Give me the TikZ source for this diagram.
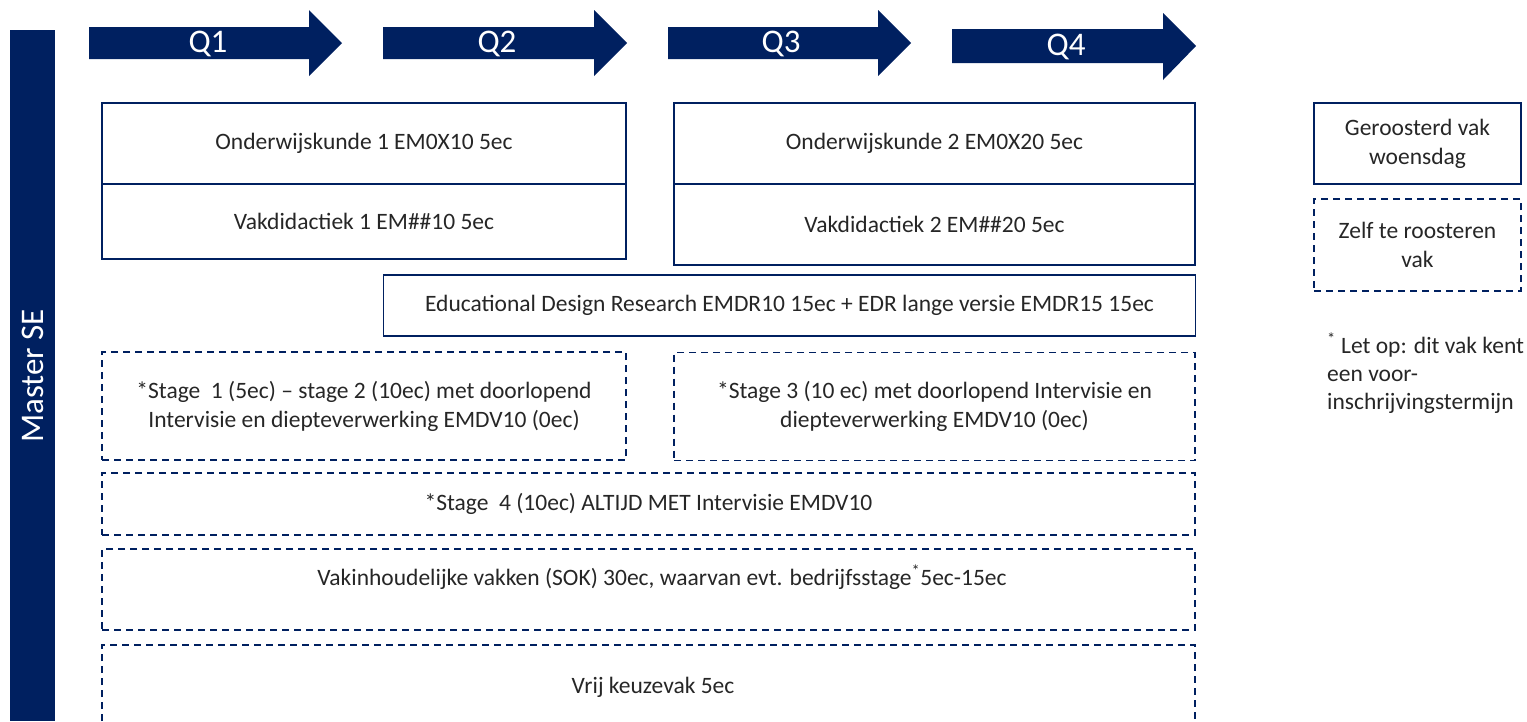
\documentclass[tikz,border=0pt]{standalone}
\usepackage{fontspec}
\setmainfont{Carlito}
\definecolor{navy}{RGB}{0,32,96}
\definecolor{txt}{RGB}{38,38,38}
\begin{document}
\begin{tikzpicture}[x=1pt,y=-1pt,
  solidbox/.style={draw=navy,line width=1.8pt,inner sep=0pt,align=center,text=txt,font=\fontsize{23.5}{29}\selectfont},
  dashbox/.style={solidbox,dash pattern=on 7pt off 5pt},
  lbl/.style={inner sep=0pt,text=txt,font=\fontsize{23.5}{29}\selectfont},
  qtext/.style={inner sep=0pt,text=white,font=\fontsize{33}{36}\selectfont},
  qarrow/.style={fill=navy,draw=none}]
\useasboundingbox (0,0) rectangle (1527,721);
% Master SE bar
\fill[navy] (10,30) rectangle (55,721);
\node[qtext,rotate=90] (master) at (33,376) {Master SE};
% quarter arrows
\fill[qarrow] (89,27) -- (309,27) -- (309,10) -- (342,43) -- (309,76) -- (309,59) -- (89,59) -- cycle;
\node[qtext] (q1) at (208,44) {Q1};
\fill[qarrow] (383,27) -- (594,27) -- (594,10) -- (627,43) -- (594,76) -- (594,59) -- (383,59) -- cycle;
\node[qtext] (q2) at (497,44) {Q2};
\fill[qarrow] (668,27) -- (878,27) -- (878,10) -- (911,43) -- (878,76) -- (878,59) -- (668,59) -- cycle;
\node[qtext] (q3) at (781,44) {Q3};
\fill[qarrow] (952,29) -- (1163,29) -- (1163,13) -- (1196,46) -- (1163,80) -- (1163,63) -- (952,63) -- cycle;
\node[qtext] (q4) at (1066,47) {Q4};
% scheduled courses
\node[solidbox,minimum width=524,minimum height=81] (ow1) at (364,143.5) {Onderwijskunde 1 EM0X10 5ec};
\node[solidbox,minimum width=524,minimum height=75] (vd1) at (364,221.5) {Vakdidactiek 1 EM\#\#10 5ec};
\node[solidbox,minimum width=521,minimum height=81] (ow2) at (934.5,143.5) {Onderwijskunde 2 EM0X20 5ec};
\node[solidbox,minimum width=521,minimum height=81] (vd2) at (934.5,224.5) {Vakdidactiek 2 EM\#\#20 5ec};
\node[solidbox,minimum width=812,minimum height=61] (edr) at (789.5,305.5) {Educational Design Research EMDR10 15ec + EDR lange versie EMDR15 15ec};
% self-scheduled
\node[dashbox,minimum width=524,minimum height=108] (st1) at (364,406) {*Stage\ \ 1 (5ec) -- stage 2 (10ec) met doorlopend\\Intervisie en diepteverwerking EMDV10 (0ec)};
\node[dashbox,minimum width=521,minimum height=108] (st3) at (934.5,406.5) {*Stage 3 (10 ec) met doorlopend Intervisie en\\diepteverwerking EMDV10 (0ec)};
\node[dashbox,minimum width=1093,minimum height=62] (st4) at (648.5,504) {*Stage\ \ 4 (10ec) ALTIJD MET Intervisie EMDV10};
\node[dashbox,minimum width=1093,minimum height=81] (sok) at (648.5,589.5) {};
\node[lbl] (soktext) at (662,577) {Vakinhoudelijke vakken (SOK) 30ec, waarvan evt. bedrijfsstage\textsuperscript{*}5ec-15ec};
\coordinate (vrijbl) at (102,721);
\coordinate (vrijtl) at (102,645);
\coordinate (vrijtr) at (1195,645);
\coordinate (vrijbr) at (1195,721);
\draw[navy,line width=1.8pt,dash pattern=on 7pt off 5pt] (vrijbl) -- (vrijtl) -- (vrijtr) -- (vrijbr);
\node[lbl] (vrijtext) at (653,687) {Vrij keuzevak 5ec};
% legend
\node[solidbox,minimum width=207,minimum height=81] (leg1) at (1417.5,143.5) {Geroosterd vak\\woensdag};
\node[dashbox,minimum width=207,minimum height=92] (leg2) at (1417.5,245) {Zelf te roosteren\\vak};
\node[lbl,anchor=west,align=left,font=\fontsize{23.5}{28}\selectfont] (note) at (1327,373) {\textsuperscript{*} Let op: dit vak kent\\een voor-\\inschrijvingstermijn};
\end{tikzpicture}
\end{document}
